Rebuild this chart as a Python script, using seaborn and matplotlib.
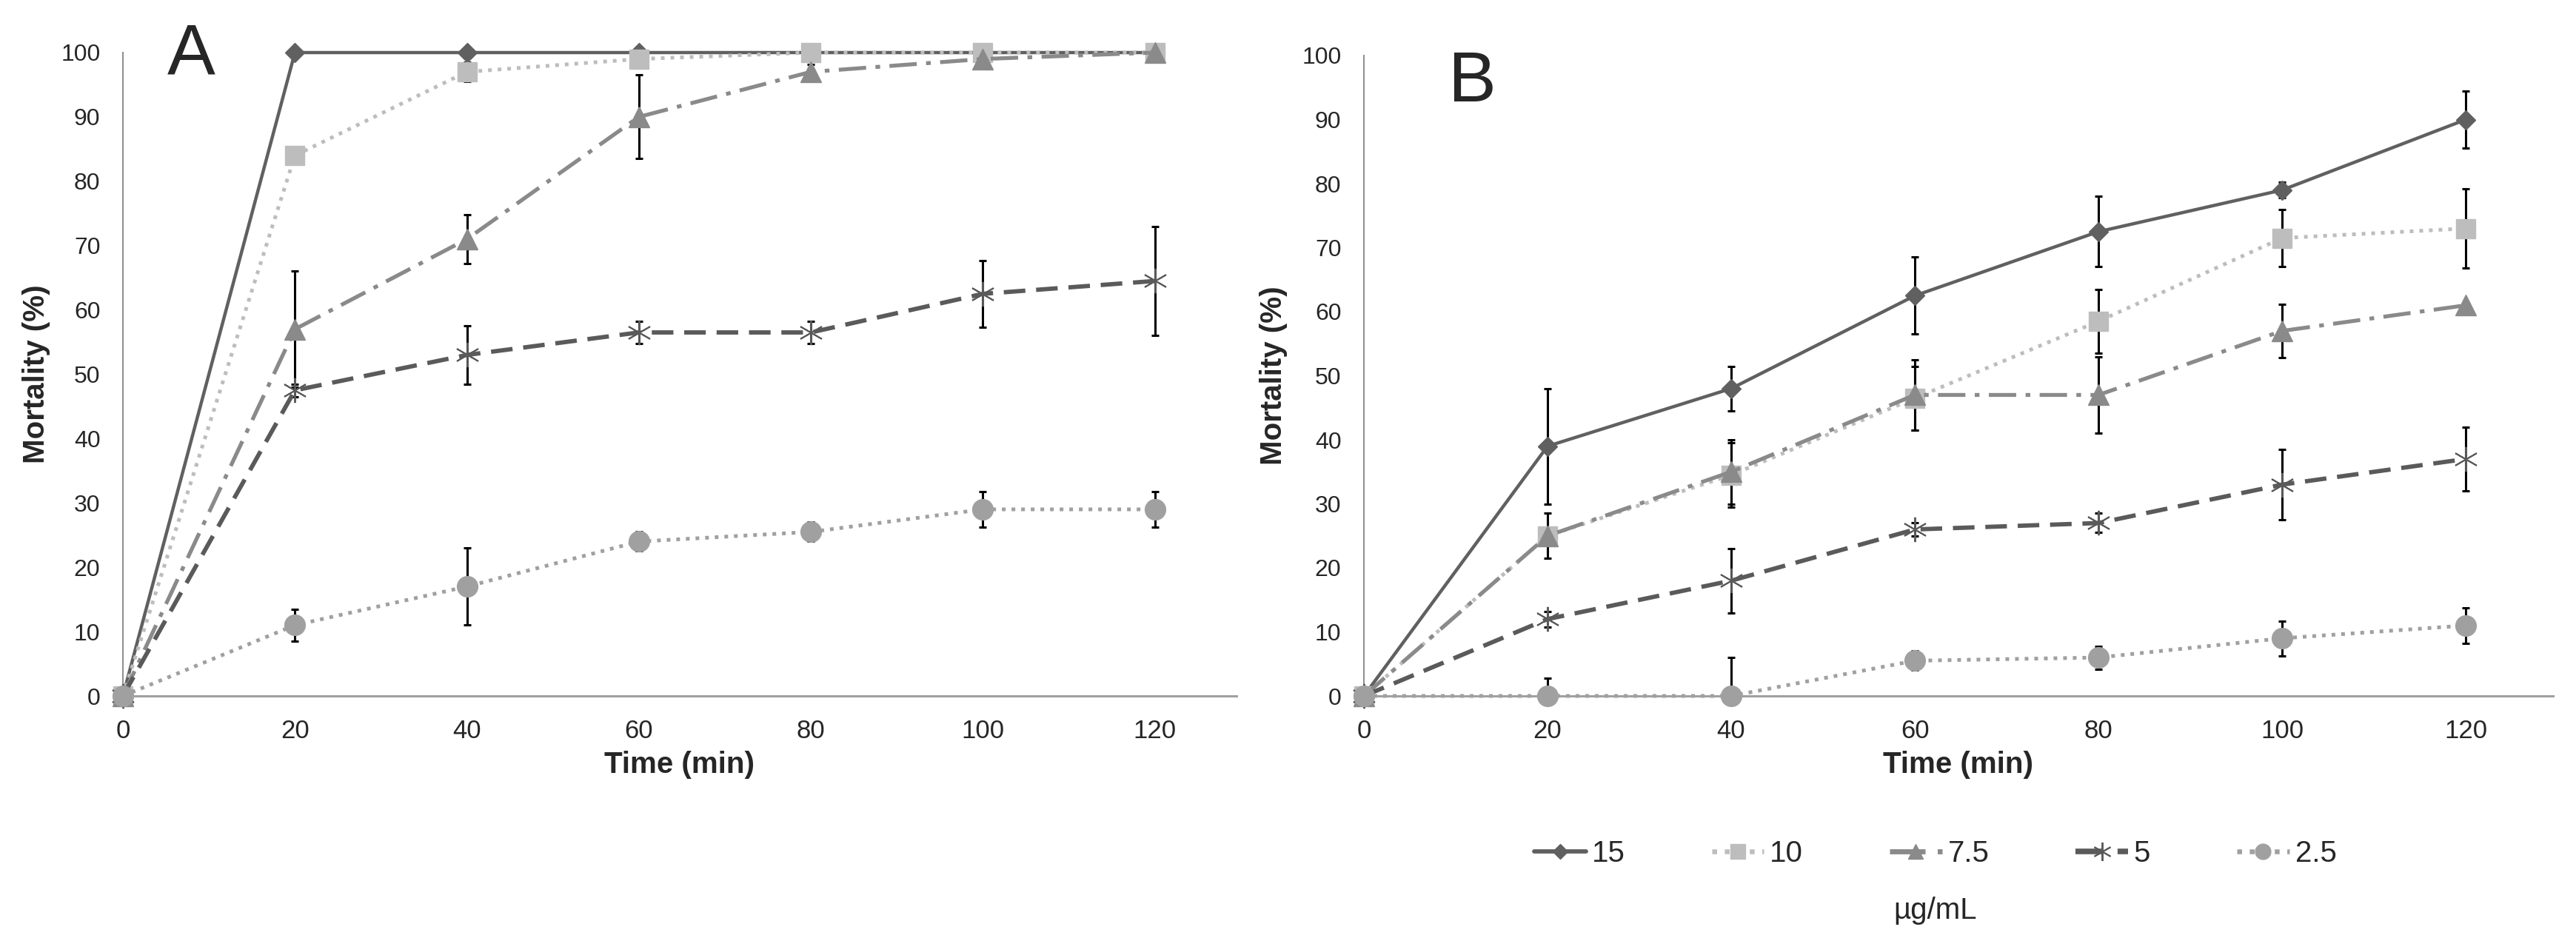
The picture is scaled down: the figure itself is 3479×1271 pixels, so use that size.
import numpy as np
import pandas as pd
import matplotlib
matplotlib.use("Agg")
import matplotlib.pyplot as plt
import seaborn as sns
from matplotlib.lines import Line2D

# ---------------- data ----------------
time_min = [0, 20, 40, 60, 80, 100, 120]
concentrations = ["15", "10", "7.5", "5", "2.5"]
x_ticks = [0, 20, 40, 60, 80, 100, 120]
y_ticks = [0, 10, 20, 30, 40, 50, 60, 70, 80, 90, 100]
nan = np.nan

# Panel A mortality (%)
a_15 = [0, 100, 100, 100, 100, 100, 100]
a_10 = [0, 84, 97, 99, 100, 100, 100]
a_7_5 = [0, 57, 71, 90, 97, 99, 100]
a_5 = [0, 47.5, 53, 56.5, 56.5, 62.5, 64.5]
a_2_5 = [0, 11, 17, 24, 25.5, 29, 29]
# Panel A error (+/-)
a_15_err = [nan, nan, nan, nan, nan, nan, nan]
a_10_err = [nan, nan, 1.5, nan, nan, nan, nan]
a_7_5_err = [nan, 9, 3.8, 6.5, 1.2, nan, nan]
a_5_err = [nan, 1, 4.5, 1.7, 1.7, 5.2, 8.5]
a_2_5_err = [nan, 2.5, 6, 1.5, 1.5, 2.8, 2.8]

# Panel B mortality (%)
b_15 = [0, 39, 48, 62.5, 72.5, 79, 90]
b_10 = [0, 25, 34.5, 46.5, 58.5, 71.5, 73]
b_7_5 = [0, 25, 35, 47, 47, 57, 61]
b_5 = [0, 12, 18, 26, 27, 33, 37]
b_2_5 = [0, 0, 0, 5.5, 6, 9, 11]
# Panel B error (+/-)
b_15_err = [nan, 9, 3.5, 6, 5.5, 1.2, 4.5]
b_10_err = [nan, 3.5, 5, 5, 5, 4.5, 6.2]
b_7_5_err = [nan, 1, 5, 5.5, 6, 4.2, nan]
b_5_err = [nan, 1.2, 5, 1, 1.5, 5.5, 5]
b_2_5_err = [nan, 2.8, 6, 1.5, 1.8, 2.7, 2.8]

panel_a_vals = [a_15, a_10, a_7_5, a_5, a_2_5]
panel_a_errs = [a_15_err, a_10_err, a_7_5_err, a_5_err, a_2_5_err]
panel_b_vals = [b_15, b_10, b_7_5, b_5, b_2_5]
panel_b_errs = [b_15_err, b_10_err, b_7_5_err, b_5_err, b_2_5_err]

# ---------------- styles ----------------
styles = {
    "15":  dict(color="#606060", ls="-", lw=3.2, marker="D", ms=13, mew=1.0),
    "10":  dict(color="#bdbdbd", ls=(0, (1, 1.6)), lw=3.6, marker="s", ms=19, mew=1.0),
    "7.5": dict(color="#8a8a8a", ls=(0, (7, 2.4, 1.2, 2.4)), lw=3.8, marker="^", ms=20, mew=1.0),
    "5":   dict(color="#5a5a5a", ls=(0, (5, 2.5)), lw=4.2, marker=(6, 2, 0), ms=24, mew=1.4),
    "2.5": dict(color="#a0a0a0", ls=(0, (1, 1.6)), lw=3.6, marker="o", ms=20, mew=1.0),
}

def make_df(vals):
    rows = []
    for c, v in zip(concentrations, vals):
        for t, m in zip(time_min, v):
            rows.append({"time": t, "mortality": m, "conc": c})
    return pd.DataFrame(rows)

sns.set_style("white")
plt.rcParams["font.family"] = ["Liberation Sans", "DejaVu Sans"]

W, H = 3480, 1271
fig = plt.figure(figsize=(W / 100, H / 100), dpi=100)
fig.patch.set_facecolor("white")

axA = fig.add_axes([166 / W, 1 - 940 / H, (1670 - 166) / W, (940 - 71) / H])
axB = fig.add_axes([1842 / W, 1 - 940 / H, (3448 - 1842) / W, (940 - 75) / H])

def draw_panel(ax, vals, errs, ylab_x, xlab_y):
    df = make_df(vals)
    for c, e in zip(concentrations, errs):
        sub = df[df["conc"] == c]
        st = styles[c]
        ax.errorbar(sub["time"], sub["mortality"], yerr=e, fmt="none",
                    ecolor="black", elinewidth=2.2, capsize=3.5, capthick=2.2,
                    zorder=2.5)
        sns.lineplot(data=sub, x="time", y="mortality", ax=ax, sort=False,
                     errorbar=None, color=st["color"], linestyle=st["ls"],
                     linewidth=st["lw"], marker=st["marker"], markersize=st["ms"],
                     markeredgecolor=st["color"], markeredgewidth=st["mew"],
                     markerfacecolor=st["color"], clip_on=False, zorder=3)
    ax.set_xlim(0, 129.5)
    ax.set_ylim(0, 100)
    ax.set_xticks(x_ticks)
    ax.set_yticks(y_ticks)
    ax.tick_params(axis="both", length=0)
    ax.tick_params(axis="y", labelsize=23, pad=22)
    ax.tick_params(axis="x", labelsize=25, pad=22)
    for s in ["top", "right"]:
        ax.spines[s].set_visible(False)
    ax.spines["left"].set_color("#8c8c8c")
    ax.spines["left"].set_linewidth(1.4)
    ax.spines["bottom"].set_color("#a0a0a0")
    ax.spines["bottom"].set_linewidth(2.2)
    ax.set_ylabel("Mortality (%)", fontsize=29, fontweight="bold")
    ax.set_xlabel("Time (min)", fontsize=29, fontweight="bold")
    ax.yaxis.set_label_coords(ylab_x, 0.5)
    ax.xaxis.set_label_coords(0.5, xlab_y)
    ax.yaxis.label.set_va("center")
    ax.xaxis.label.set_va("center")
    ax.grid(False)

draw_panel(axA, panel_a_vals, panel_a_errs, -0.078, -0.107)
draw_panel(axB, panel_b_vals, panel_b_errs, -0.076, -0.1075)

fig.text(258 / W, 1 - 74 / H, "A", fontsize=70, ha="center", va="center")
fig.text(1988 / W, 1 - 112 / H, "B", fontsize=70, ha="center", va="center")

handles = []
for c in concentrations:
    st = styles[c]
    handles.append(Line2D([0], [0], color=st["color"], linestyle=st["ls"],
                          linewidth=st["lw"] * 1.3, marker=st["marker"],
                          markersize=st["ms"] * 0.75, markeredgecolor=st["color"],
                          markerfacecolor=st["color"], markeredgewidth=st["mew"]))
fig.legend(handles, concentrations, loc="center", bbox_to_anchor=(0.751, 1 - 1153 / H),
           ncol=5, frameon=False, fontsize=29, handlelength=1.75,
           handletextpad=0.2, columnspacing=2.9)
fig.text(0.751, 1 - 1230 / H, "µg/mL", fontsize=29, ha="center", va="center")

fig.savefig("out.png", dpi=100, facecolor="white")
